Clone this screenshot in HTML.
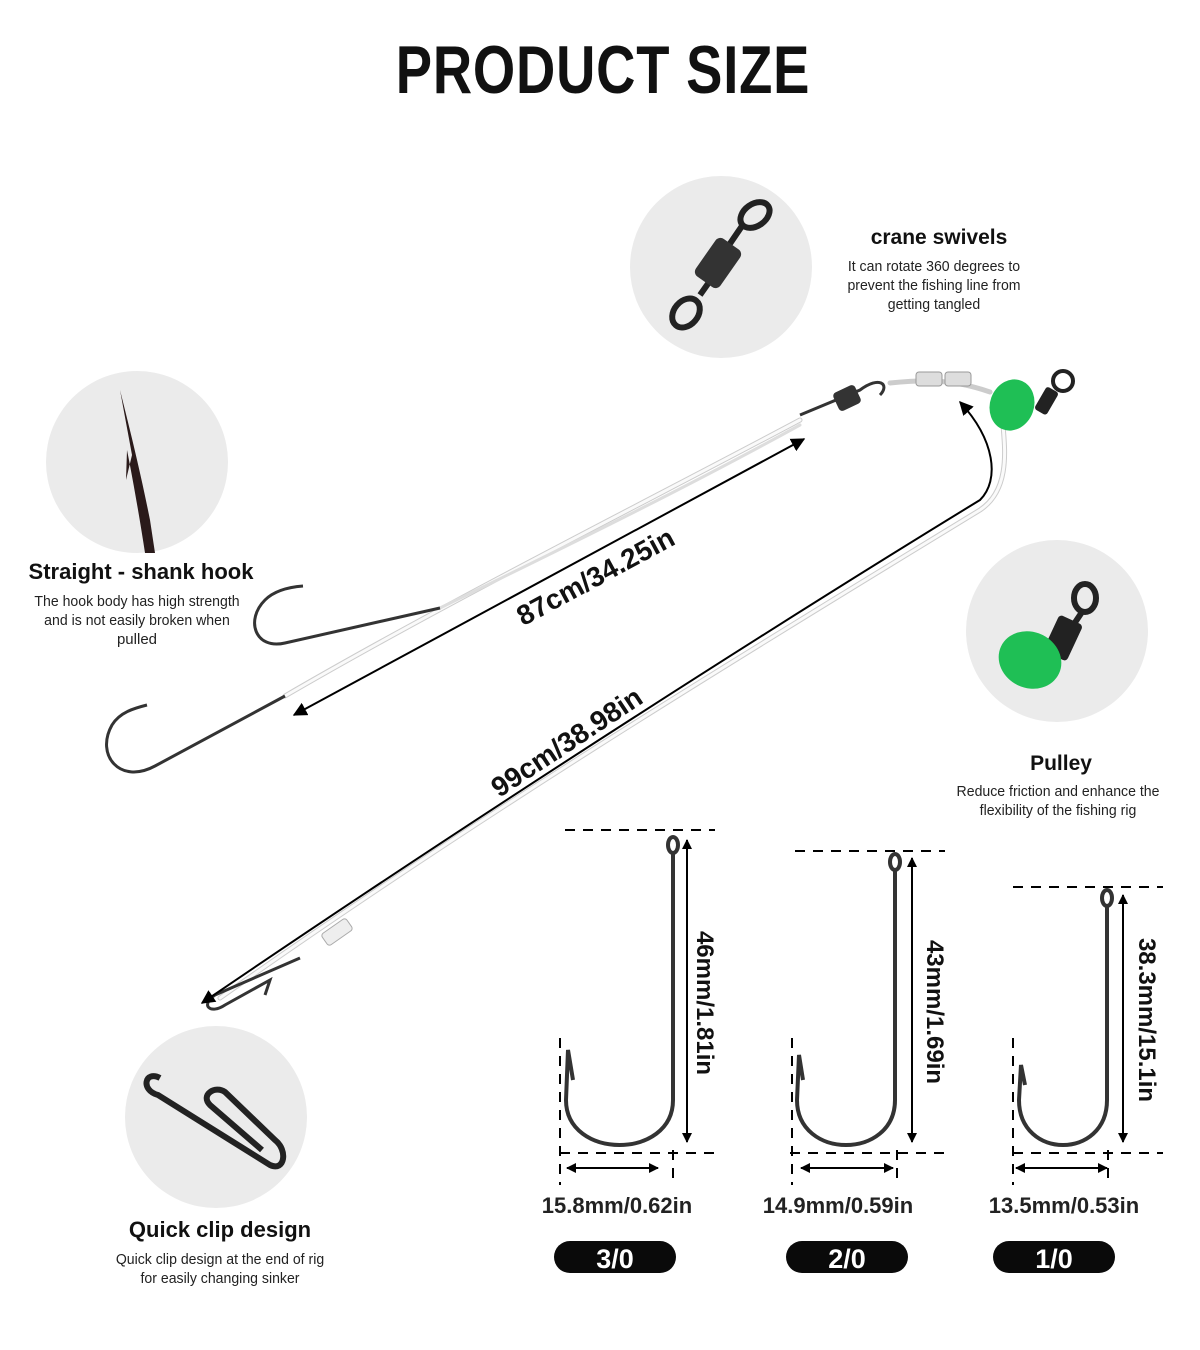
<!DOCTYPE html>
<html><head><meta charset="utf-8"><style>
html,body{margin:0;padding:0;background:#fff;}
svg{display:block;}
text{font-family:"Liberation Sans",sans-serif;}
</style></head><body>
<svg width="1200" height="1350" viewBox="0 0 1200 1350" xmlns="http://www.w3.org/2000/svg">
<defs>
<marker id="ah" viewBox="0 0 10 10" refX="9" refY="5" markerWidth="7" markerHeight="7" orient="auto-start-reverse"><path d="M0,0 L10,5 L0,10 z" fill="#000"/></marker>
<marker id="ab" viewBox="0 0 10 10" refX="9" refY="5" markerWidth="5" markerHeight="5" orient="auto-start-reverse"><path d="M0,0 L10,5 L0,10 z" fill="#000"/></marker>
</defs>
<text x="603" y="93" text-anchor="middle" font-size="68" font-weight="bold" fill="#111" transform="translate(603 0) scale(0.8 1) translate(-603 0)" style="letter-spacing:1px">PRODUCT SIZE</text>

<circle cx="721" cy="267" r="91" fill="#ebebeb"/>
<circle cx="137" cy="462" r="91" fill="#ebebeb"/>
<circle cx="1057" cy="631" r="91" fill="#ebebeb"/>
<circle cx="216" cy="1117" r="91" fill="#ebebeb"/>

<g stroke="#222" fill="none" stroke-width="6">
<ellipse cx="755" cy="215" rx="16" ry="11" transform="rotate(-35 755 215)"/>
<ellipse cx="686" cy="313" rx="16" ry="12" transform="rotate(-50 686 313)"/>
<line x1="742" y1="226" x2="727" y2="248"/>
<line x1="700" y1="295" x2="712" y2="278"/>
</g>
<rect x="703" y="240" width="30" height="46" rx="6" fill="#333" transform="rotate(35 718 263)"/>
<text x="939" y="244" text-anchor="middle" font-size="21" font-weight="bold" fill="#111">crane swivels</text>
<text x="934" y="271" text-anchor="middle" font-size="15" fill="#222" transform="translate(934 0) scale(0.94 1) translate(-934 0)">It can rotate 360 degrees to</text>
<text x="934" y="290" text-anchor="middle" font-size="15" fill="#222" transform="translate(934 0) scale(0.94 1) translate(-934 0)">prevent the fishing line from</text>
<text x="934" y="309" text-anchor="middle" font-size="15" fill="#222" transform="translate(934 0) scale(0.94 1) translate(-934 0)">getting tangled</text>

<path d="M120,390 C130,430 140,470 150,520 L155,553 L145,553 C140,520 133,480 127,450 L126,480 L132,455 Z" fill="#2a1a1a"/>
<text x="141" y="579" text-anchor="middle" font-size="22" font-weight="bold" fill="#111">Straight - shank hook</text>
<text x="137" y="606" text-anchor="middle" font-size="15" fill="#222" transform="translate(137 0) scale(0.94 1) translate(-137 0)">The hook body has high strength</text>
<text x="137" y="625" text-anchor="middle" font-size="15" fill="#222" transform="translate(137 0) scale(0.94 1) translate(-137 0)">and is not easily broken when</text>
<text x="137" y="644" text-anchor="middle" font-size="15" fill="#222">pulled</text>

<g stroke="#222" fill="none" stroke-width="6"><ellipse cx="1085" cy="598" rx="11" ry="14"/><line x1="1082" y1="612" x2="1070" y2="630"/></g>
<rect x="1050" y="618" width="26" height="40" rx="4" fill="#222" transform="rotate(25 1063 638)"/>
<ellipse cx="1030" cy="660" rx="32" ry="28" fill="#1fbf55" transform="rotate(25 1030 660)"/>
<text x="1061" y="770" text-anchor="middle" font-size="21" font-weight="bold" fill="#111">Pulley</text>
<text x="1058" y="796" text-anchor="middle" font-size="15" fill="#222" transform="translate(1058 0) scale(0.94 1) translate(-1058 0)">Reduce friction and enhance the</text>
<text x="1058" y="815" text-anchor="middle" font-size="15" fill="#222" transform="translate(1058 0) scale(0.94 1) translate(-1058 0)">flexibility of the fishing rig</text>

<path d="M160,1078 C145,1070 140,1090 158,1095 L270,1165 C285,1172 288,1150 275,1140 L225,1092 C215,1085 200,1095 210,1105 L262,1150" fill="none" stroke="#222" stroke-width="6"/>
<text x="220" y="1237" text-anchor="middle" font-size="22" font-weight="bold" fill="#111">Quick clip design</text>
<text x="220" y="1264" text-anchor="middle" font-size="15" fill="#222" transform="translate(220 0) scale(0.94 1) translate(-220 0)">Quick clip design at the end of rig</text>
<text x="220" y="1283" text-anchor="middle" font-size="15" fill="#222" transform="translate(220 0) scale(0.94 1) translate(-220 0)">for easily changing sinker</text>

<g fill="none" stroke-linecap="round">
<path d="M285,696 C450,600 650,500 800,420" stroke="#ccc" stroke-width="5"/>
<path d="M285,696 C450,600 650,500 800,420" stroke="#fafafa" stroke-width="3"/>
<path d="M440,608 C600,530 700,480 800,425" stroke="#ddd" stroke-width="3"/>
<path d="M220,998 C500,800 800,620 980,510 C1010,490 1005,450 1003,425" stroke="#ccc" stroke-width="5"/>
<path d="M220,998 C500,800 800,620 980,510 C1010,490 1005,450 1003,425" stroke="#fafafa" stroke-width="3"/>
<path d="M890,383 C920,380 950,378 990,392" stroke="#ccc" stroke-width="5"/>
</g>
<g fill="none" stroke="#333" stroke-width="3">
<path d="M440,608 L285,643 C255,650 245,620 265,600 C275,590 290,587 303,586"/>
<path d="M285,696 L155,766 C120,785 95,755 112,725 C120,712 135,708 147,705"/>
<path d="M800,415 L860,390 C880,375 890,385 880,395"/>
<path d="M300,958 L215,995 C200,1005 210,1015 225,1005 L270,980 L265,995"/>
</g>
<rect x="835" y="388" width="24" height="20" rx="4" fill="#333" transform="rotate(-25 847 398)"/>
<rect x="916" y="372" width="26" height="14" rx="3" fill="#ddd" stroke="#999"/>
<rect x="945" y="372" width="26" height="14" rx="3" fill="#ddd" stroke="#999"/>
<rect x="322" y="925" width="30" height="14" rx="3" fill="#eee" stroke="#aaa" transform="rotate(-35 337 932)"/>
<rect x="1040" y="388" width="14" height="26" rx="3" fill="#222" transform="rotate(30 1047 400)"/>
<circle cx="1063" cy="381" r="10" fill="none" stroke="#222" stroke-width="4"/>
<ellipse cx="1012" cy="405" rx="22" ry="26" fill="#1fbf55" transform="rotate(20 1012 405)"/>

<line x1="294" y1="715" x2="804" y2="439" stroke="#000" stroke-width="2" marker-start="url(#ah)" marker-end="url(#ah)"/>
<path d="M202,1003 C500,800 800,610 980,500 C1000,480 995,440 960,402" fill="none" stroke="#000" stroke-width="2" marker-start="url(#ah)" marker-end="url(#ah)"/>
<text transform="translate(600 585) rotate(-28.3)" text-anchor="middle" font-size="28" font-weight="bold" fill="#111">87cm/34.25in</text>
<text transform="translate(572 750) rotate(-33.5)" text-anchor="middle" font-size="28" font-weight="bold" fill="#111">99cm/38.98in</text>

<g stroke="#000" stroke-width="2" stroke-dasharray="10 8" fill="none">
<line x1="565" y1="830" x2="715" y2="830"/><line x1="560" y1="1153" x2="715" y2="1153"/>
<line x1="560" y1="1038" x2="560" y2="1185"/><line x1="673" y1="1150" x2="673" y2="1185"/>
<line x1="795" y1="851" x2="945" y2="851"/><line x1="790" y1="1153" x2="945" y2="1153"/>
<line x1="792" y1="1038" x2="792" y2="1185"/><line x1="897" y1="1150" x2="897" y2="1185"/>
<line x1="1013" y1="887" x2="1163" y2="887"/><line x1="1013" y1="1153" x2="1163" y2="1153"/>
<line x1="1013" y1="1038" x2="1013" y2="1185"/><line x1="1108" y1="1150" x2="1108" y2="1185"/>
</g>
<g fill="none" stroke="#333" stroke-width="4">
<ellipse cx="673" cy="845" rx="5" ry="8"/>
<path d="M673,853 L673,1100 C673,1160 566,1160 566,1100 L568,1050 L573,1080"/>
<ellipse cx="895" cy="862" rx="5" ry="8"/>
<path d="M895,870 L895,1100 C895,1160 797,1160 797,1100 L799,1055 L803,1080"/>
<ellipse cx="1107" cy="898" rx="5" ry="8"/>
<path d="M1107,906 L1107,1100 C1107,1160 1019,1160 1019,1100 L1021,1065 L1025,1085"/>
</g>
<g stroke="#000" stroke-width="2">
<line x1="687" y1="840" x2="687" y2="1142" marker-start="url(#ab)" marker-end="url(#ab)"/>
<line x1="912" y1="858" x2="912" y2="1142" marker-start="url(#ab)" marker-end="url(#ab)"/>
<line x1="1123" y1="895" x2="1123" y2="1142" marker-start="url(#ab)" marker-end="url(#ab)"/>
<line x1="567" y1="1168" x2="658" y2="1168" marker-start="url(#ab)" marker-end="url(#ab)"/>
<line x1="801" y1="1168" x2="893" y2="1168" marker-start="url(#ab)" marker-end="url(#ab)"/>
<line x1="1016" y1="1168" x2="1107" y2="1168" marker-start="url(#ab)" marker-end="url(#ab)"/>
</g>
<text transform="translate(697 1003) rotate(90)" text-anchor="middle" font-size="24" font-weight="bold" fill="#111">46mm/1.81in</text>
<text transform="translate(927 1012) rotate(90)" text-anchor="middle" font-size="24" font-weight="bold" fill="#111">43mm/1.69in</text>
<text transform="translate(1139 1020) rotate(90)" text-anchor="middle" font-size="24" font-weight="bold" fill="#111">38.3mm/15.1in</text>
<text x="617" y="1213" text-anchor="middle" font-size="22" font-weight="bold" fill="#222">15.8mm/0.62in</text>
<text x="838" y="1213" text-anchor="middle" font-size="22" font-weight="bold" fill="#222">14.9mm/0.59in</text>
<text x="1064" y="1213" text-anchor="middle" font-size="22" font-weight="bold" fill="#222">13.5mm/0.53in</text>
<rect x="554" y="1241" width="122" height="32" rx="16" fill="#0a0a0a"/>
<rect x="786" y="1241" width="122" height="32" rx="16" fill="#0a0a0a"/>
<rect x="993" y="1241" width="122" height="32" rx="16" fill="#0a0a0a"/>
<text x="615" y="1268" text-anchor="middle" font-size="27" font-weight="bold" fill="#fff">3/0</text>
<text x="847" y="1268" text-anchor="middle" font-size="27" font-weight="bold" fill="#fff">2/0</text>
<text x="1054" y="1268" text-anchor="middle" font-size="27" font-weight="bold" fill="#fff">1/0</text>
</svg>
</body></html>
